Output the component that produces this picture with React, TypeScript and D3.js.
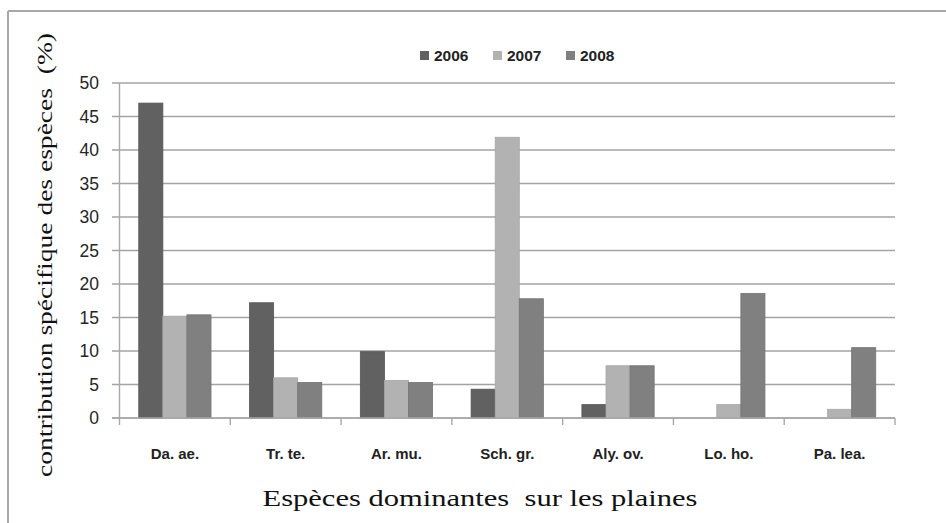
import React from 'react';
import * as d3 from 'd3';

// species (x categories)
const categories = ['Da. ae.', 'Tr. te.', 'Ar. mu.', 'Sch. gr.', 'Aly. ov.', 'Lo. ho.', 'Pa. lea.'];
const years = ['2006', '2007', '2008'];
// contribution (%) per year
const values2006 = [47, 17.2, 9.9, 4.3, 2.0, 0, 0];
const values2007 = [15.2, 6.0, 5.6, 41.9, 7.8, 2.0, 1.3];
const values2008 = [15.4, 5.3, 5.3, 17.8, 7.8, 18.6, 10.5];
const yTicks = [0, 5, 10, 15, 20, 25, 30, 35, 40, 45, 50];

const colors = ['#616161', '#b2b2b2', '#808080'];
const strokes = ['#555', '#a6a6a6', '#747474'];

const W = 946;
const H = 523;
const left = 119.5;
const right = 895;
const top = 83;
const bottom = 418;

const App = () => {
  const series = [values2006, values2007, values2008];

  const x = d3.scaleBand<string>().domain(categories).range([left, right]).paddingInner(0).paddingOuter(0);
  const xInner = d3.scaleBand<string>().domain(years).range([0, x.bandwidth()]).paddingInner(0).paddingOuter(0.8);
  const y = d3.scaleLinear().domain([0, 50]).range([bottom, top]);

  const tickFont = '"Liberation Sans", Arial, sans-serif';
  const serif = '"Liberation Serif", "Times New Roman", serif';

  return (
    <svg width={W} height={H} style={{ position: 'absolute', left: 0, top: 0, background: '#fff' }}>
      {/* outer frame, cut off on right and bottom */}
      <line x1={8} y1={11} x2={W} y2={11} stroke="#a8a8a8" strokeWidth={2} />
      <line x1={8} y1={11} x2={8} y2={H} stroke="#a8a8a8" strokeWidth={2} />

      {/* gridlines + y ticks */}
      {yTicks.map(t => (
        <g key={t}>
          <line x1={112} x2={right} y1={y(t)} y2={y(t)} stroke="#a3a3a3" strokeWidth={1.4} />
          <text x={99} y={y(t)} dy="0.35em" textAnchor="end" fontFamily={tickFont} fontSize={17.5} fill="#262626">{t}</text>
        </g>
      ))}

      {/* y axis */}
      <line x1={left} x2={left} y1={top} y2={bottom} stroke="#a8a8a8" strokeWidth={1.4} />

      {/* bars */}
      {categories.map((c, i) => (
        <g key={c} transform={`translate(${x(c)},0)`}>
          {years.map((yr, j) => {
            const v = series[j][i];
            if (!v) return null;
            return (
              <rect key={yr} x={xInner(yr)} y={y(v)} width={xInner.bandwidth()} height={bottom - y(v)}
                fill={colors[j]} stroke={strokes[j]} strokeWidth={0.8} />
            );
          })}
        </g>
      ))}

      {/* x axis + category ticks */}
      <line x1={112} x2={right} y1={bottom} y2={bottom} stroke="#a8a8a8" strokeWidth={1.4} />
      {[...categories.map(c => x(c) as number), right].map((px, i) => (
        <line key={i} x1={px} x2={px} y1={bottom} y2={bottom + 7} stroke="#a8a8a8" strokeWidth={1.4} />
      ))}
      {categories.map(c => (
        <text key={c} x={(x(c) as number) + x.bandwidth() / 2} y={459} textAnchor="middle"
          fontFamily={tickFont} fontWeight="bold" fontSize={15} fill="#222">{c}</text>
      ))}

      {/* legend */}
      {years.map((yr, j) => (
        <g key={yr} transform={`translate(${420 + j * 73},0)`}>
          <rect x={0} y={51} width={9} height={9} fill={colors[j]} />
          <text x={14} y={55.5} dy="0.35em" fontFamily={tickFont} fontWeight="bold" fontSize={15.5} fill="#222">{yr}</text>
        </g>
      ))}

      {/* axis titles */}
      <text transform="translate(52,255) rotate(-90)" textAnchor="middle" fontFamily={serif} fontSize={22} fill="#111"
        textLength={444} lengthAdjust="spacingAndGlyphs"
        style={{ whiteSpace: 'pre' }}>contribution spécifique des espèces  (%)</text>
      <text x={480} y={506} textAnchor="middle" fontFamily={serif} fontSize={24} fill="#111"
        textLength={435} lengthAdjust="spacingAndGlyphs"
        style={{ whiteSpace: 'pre' }}>Espèces dominantes  sur les plaines</text>
    </svg>
  );
};

export default App;
